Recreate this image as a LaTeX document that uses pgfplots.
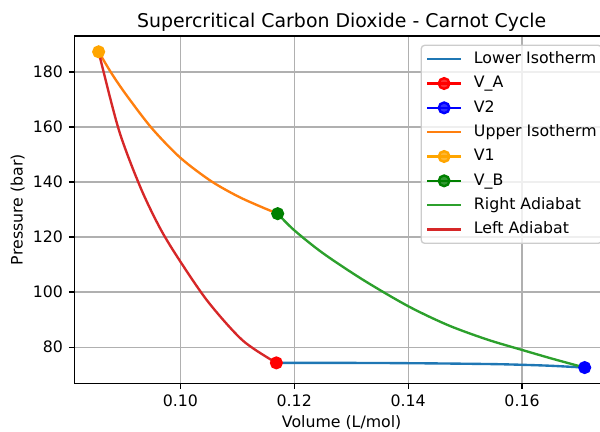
\documentclass[border=0pt]{standalone}
\usepackage{pgfplots}
\pgfplotsset{compat=1.18}
\usepackage{fontspec}
\setmainfont{DejaVu Sans}

\definecolor{mplblue}{HTML}{1F77B4}
\definecolor{mplorange}{HTML}{FF7F0E}
\definecolor{mplgreen}{HTML}{2CA02C}
\definecolor{mplred}{HTML}{D62728}
\definecolor{gridgray}{HTML}{B0B0B0}
\definecolor{legendedge}{HTML}{CCCCCC}
\definecolor{ptorange}{HTML}{FFA500}
\definecolor{ptgreen}{HTML}{008000}

% cycle branches: volume (L/mol) vs pressure (bar)
\pgfplotstableread{
V P
0.11686 74.30
0.1250 74.30
0.1350 74.25
0.1450 74.10
0.1550 73.85
0.1600 73.60
0.1650 73.25
0.1710 72.60
}\lowerisotherm

\pgfplotstableread{
V P
0.08565 187.3
0.0880 179.2
0.09064 171.25
0.0950 159.5
0.1000 148.8
0.10527 140.5
0.1100 134.9
0.11405 131.1
0.11709 128.5
}\upperisotherm

\pgfplotstableread{
V P
0.11709 128.5
0.11993 122.6
0.1250 114.2
0.13213 104.4
0.1400 94.9
0.1470 88.0
0.15385 82.8
0.1600 79.0
0.1655 75.7
0.1710 72.6
}\rightadiabat

\pgfplotstableread{
V P
0.08565 187.3
0.08917 159.1
0.09298 138.1
0.09649 123.0
0.1000 111.1
0.10494 96.3
0.11097 82.4
0.11686 74.3
}\leftadiabat

\begin{document}
\begin{tikzpicture}
\begin{axis}[
  at={(0,0)}, anchor=south west,
  scale only axis,
  width=320.8pt, height=208.4pt,
  xmin=0.08138, xmax=0.17527,
  ymin=66.87, ymax=193.04,
  xtick={0.10,0.12,0.14,0.16},
  xticklabels={0.10,0.12,0.14,0.16},
  ytick={80,100,...,180},
  tick align=outside, tick pos=left,
  major tick length=3.3pt,
  every tick/.style={black, line width=0.76pt},
  axis line style={line width=0.76pt},
  grid=major,
  major grid style={gridgray, line width=0.76pt},
  /pgf/number format/assume math mode=true,
  tick label style={font=\fontsize{9.46}{11}\selectfont},
  title={Supercritical Carbon Dioxide - Carnot Cycle},
  every axis title/.style={at={(0.5,1)}, anchor=south, inner sep=0pt, yshift=2.6pt,
    font=\fontsize{11.35}{13}\selectfont},
  xlabel={Volume (L/mol)},
  ylabel={Pressure (bar)},
  label style={font=\fontsize{9.46}{11}\selectfont},
  xlabel style={yshift=1.5pt},
  ylabel style={inner sep=1.3pt},
  legend cell align=left,
  legend image code/.code={\draw[mark repeat=2,mark phase=2,#1] plot coordinates {(0pt,0pt) (10pt,0pt) (20pt,0pt)};},
  legend style={at={(1,1)}, anchor=north east, xshift=-4pt, yshift=-5.2pt,
    draw=legendedge, line width=0.8pt, fill=white, fill opacity=0.8, text opacity=1,
    rounded corners=2pt, inner xsep=3pt, inner ysep=3.75pt,
    font=\fontsize{9.46}{11}\selectfont, row sep=5.5pt,
    nodes={inner sep=0pt, text height=7.2pt, text depth=1.9pt},
    /tikz/every odd column/.append style={column sep=7.2pt}},
]
\addplot[mplblue, line width=1.42pt, smooth, tension=0.5] table {\lowerisotherm};
\addlegendentry{Lower Isotherm}
\addplot[red, line width=1.42pt, mark=*, mark size=3.2pt, mark options={fill=red, draw=red}] coordinates {(0.11686,74.3)};
\addlegendentry{V\_A}
\addplot[blue, line width=1.42pt, mark=*, mark size=3.2pt, mark options={fill=blue, draw=blue}] coordinates {(0.1710,72.6)};
\addlegendentry{V2}
\addplot[mplorange, line width=1.42pt, smooth, tension=0.5] table {\upperisotherm};
\addlegendentry{Upper Isotherm}
\addplot[ptorange, line width=1.42pt, mark=*, mark size=3.2pt, mark options={fill=ptorange, draw=ptorange}] coordinates {(0.08565,187.3)};
\addlegendentry{V1}
\addplot[ptgreen, line width=1.42pt, mark=*, mark size=3.2pt, mark options={fill=ptgreen, draw=ptgreen}] coordinates {(0.11709,128.5)};
\addlegendentry{V\_B}
\addplot[mplgreen, line width=1.42pt, smooth, tension=0.5] table {\rightadiabat};
\addlegendentry{Right Adiabat}
\addplot[mplred, line width=1.42pt, smooth, tension=0.5] table {\leftadiabat};
\addlegendentry{Left Adiabat}
\end{axis}
\pgfresetboundingbox
\useasboundingbox (-44.6pt,-29.2pt) rectangle (315.4pt,230pt);
\end{tikzpicture}
\end{document}
